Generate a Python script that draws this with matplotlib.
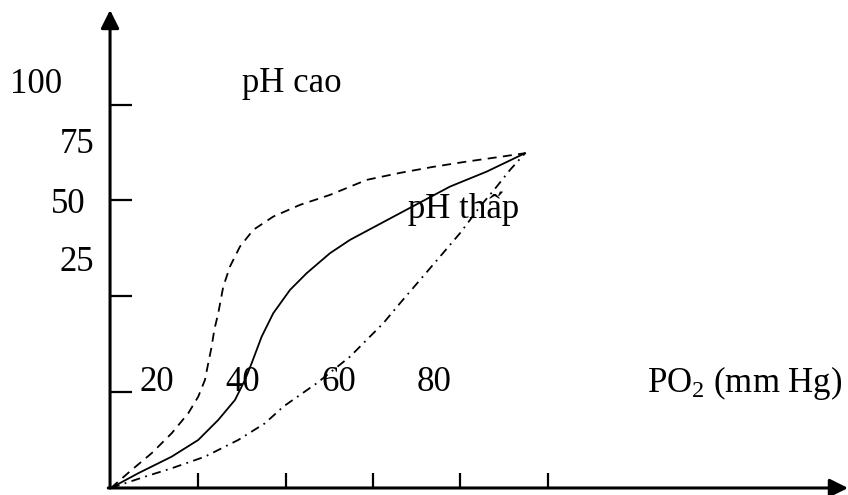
import matplotlib
matplotlib.use("Agg")
import matplotlib.pyplot as plt

plt.rcParams['font.family'] = ['Liberation Serif', 'DejaVu Serif']
plt.rcParams['mathtext.fontset'] = 'custom'
plt.rcParams['mathtext.rm'] = 'Liberation Serif'

# PO2 (mm Hg) vs % bão hòa
x_cao = [0, 4.74, 9.32, 13.91, 17.71, 20.00, 21.53, 22.29, 23.07, 23.67, 24.58, 25.73,
         27.26, 29.55, 32.60, 37.18, 43.30, 50.17, 58.58, 66.21, 73.77, 81.49, 89.12, 94.85]
y_cao = [0, 4.70, 9.06, 14.27, 19.49, 23.83, 28.18, 32.54, 36.87, 41.23, 45.59, 52.53,
         57.75, 62.97, 67.33, 70.80, 73.85, 76.46, 80.38, 82.20, 83.77, 85.15, 86.38, 87.34]

x_mid = [0, 6.25, 13.91, 20.00, 24.58, 28.41, 30.70, 32.23, 34.52, 37.18, 41.01,
         44.83, 50.17, 54.75, 66.21, 77.66, 86.07, 94.85]
y_mid = [0, 3.84, 8.17, 12.53, 17.75, 22.96, 28.18, 32.54, 39.48, 45.59, 51.67,
         56.03, 61.25, 64.72, 71.69, 78.63, 82.54, 87.34]

x_thap = [0, 7.79, 13.91, 21.53, 29.16, 35.28, 39.47, 47.13, 54.75, 62.38, 66.21,
          70.79, 75.37, 79.95, 84.54, 88.36, 91.41, 94.85]
y_thap = [0, 2.95, 5.14, 8.17, 12.53, 16.88, 21.22, 27.32, 34.26, 42.98, 48.20,
          54.28, 60.36, 66.47, 73.41, 78.63, 82.99, 87.34]

x_ticks = [20, 40, 60, 80, 100]
y_ticks = [25, 50, 75, 100]
x_labels = ['20', '40', '60', '80']
y_labels = ['100', '75', '50', '25']

fig = plt.figure(figsize=(8.48, 4.95), dpi=100)
ax = fig.add_axes([0, 0, 1, 1])
ax.set_xlim(-25.4, 168.8)
ax.set_ylim(-1.83, 127.3)
ax.axis('off')

# trục có mũi tên
arrow = dict(arrowstyle='-|>,head_length=1.1,head_width=0.55', color='black',
             lw=2.2, mutation_scale=10, shrinkA=0, shrinkB=0)
ax.annotate('', xy=(-0.2, 124.7), xytext=(-0.2, 0), arrowprops=arrow)
ax.annotate('', xy=(168.8, 0), xytext=(-0.6, 0), arrowprops=arrow)

# vạch chia
ax.vlines(x_ticks, 0, 3.9, color='black', lw=1.6)
ax.hlines(y_ticks, 0, 4.8, color='black', lw=1.6)

# ba đường cong
ax.plot(x_cao, y_cao, color='black', lw=1.3, linestyle=(0, (5, 3.5)))
ax.plot(x_mid, y_mid, color='black', lw=1.3)
ax.plot(x_thap, y_thap, color='black', lw=1.3, linestyle=(0, (5, 3, 1, 3)))

fs = 25
ax.text(-23.1, 103.1, y_labels[0], fontsize=fs, ha='left', va='baseline')
ax.text(-3.9, 87.4, y_labels[1], fontsize=fs, ha='right', va='baseline')
ax.text(-5.7, 71.8, y_labels[2], fontsize=fs, ha='right', va='baseline')
ax.text(-3.9, 56.7, y_labels[3], fontsize=fs, ha='right', va='baseline')

for xl, lab in zip([6.5, 26.1, 48.3, 70.0], x_labels):
    ax.text(xl, 25.4, lab, fontsize=fs, ha='left', va='baseline')

ax.text(30.0, 103.4, 'pH cao', fontsize=fs, ha='left', va='baseline')
ax.text(68.0, 70.5, 'pH thấp', fontsize=fs, ha='left', va='baseline')
ax.text(122.8, 25.1, r'$\mathregular{PO_2}$ (mm Hg)', fontsize=fs, ha='left', va='baseline')

fig.savefig('out.png', dpi=100)
